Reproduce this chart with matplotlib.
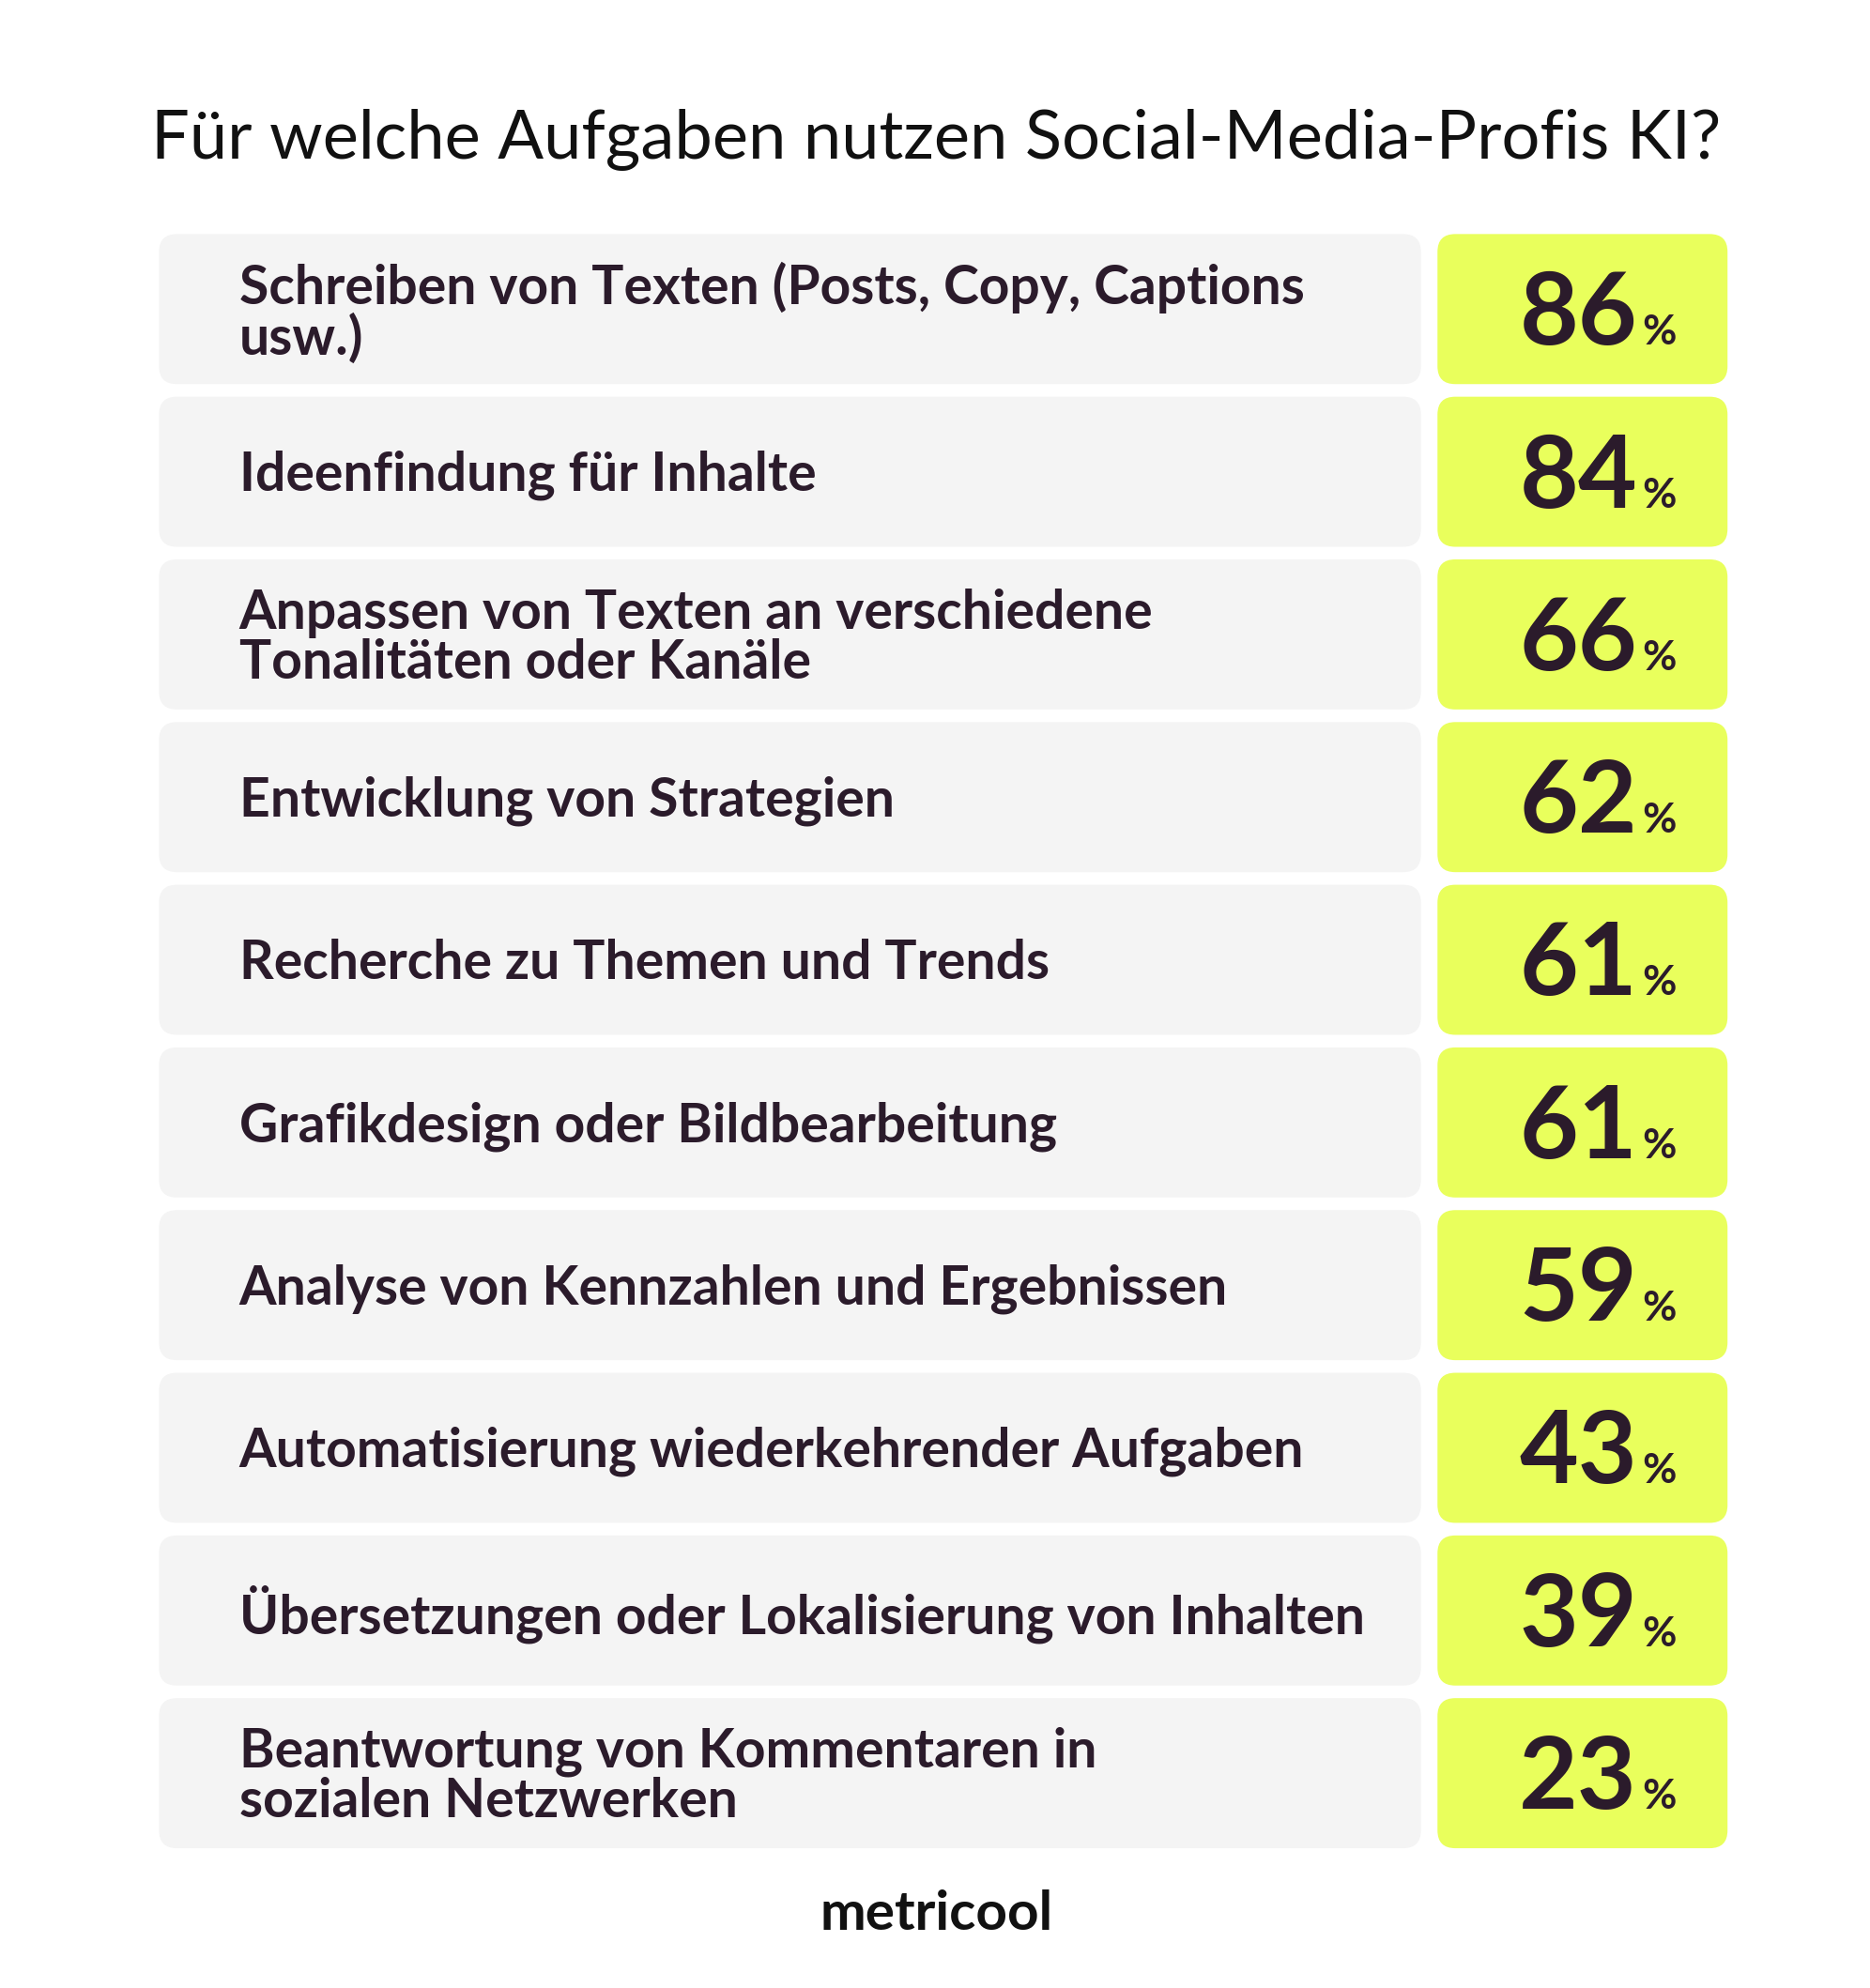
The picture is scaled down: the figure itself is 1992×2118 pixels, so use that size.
import matplotlib
matplotlib.use("Agg")
import matplotlib.pyplot as plt
from matplotlib.patches import FancyBboxPatch

# Daten
title = "Für welche Aufgaben nutzen Social-Media-Profis KI?"
tasks = [
    "Schreiben von Texten (Posts, Copy, Captions\nusw.)",
    "Ideenfindung für Inhalte",
    "Anpassen von Texten an verschiedene\nTonalitäten oder Kanäle",
    "Entwicklung von Strategien",
    "Recherche zu Themen und Trends",
    "Grafikdesign oder Bildbearbeitung",
    "Analyse von Kennzahlen und Ergebnissen",
    "Automatisierung wiederkehrender Aufgaben",
    "Übersetzungen oder Lokalisierung von Inhalten",
    "Beantwortung von Kommentaren in\nsozialen Netzwerken",
]
shares = [86, 84, 66, 62, 61, 61, 59, 43, 39, 23]

DARK = "#2b1b2b"
GRAY = "#f4f4f4"
GREEN = "#e9ff5c"
FONT = ["Lato", "DejaVu Sans"]

W, H = 1470, 1563
fig = plt.figure(figsize=(19.92, 21.18), dpi=100)
ax = fig.add_axes([0, 0, 1, 1])
ax.set_xlim(0, W)
ax.set_ylim(H, 0)
ax.axis("off")

ax.text(736, 110, title, ha="center", va="center", fontsize=52,
        color="#111111", family=FONT)

top0, pitch, h = 184, 127.9, 118
for i, (task, val) in enumerate(zip(tasks, shares)):
    y = top0 + i * pitch
    ax.add_patch(FancyBboxPatch((125, y), 992, h, boxstyle="round,pad=0,rounding_size=14",
                                fc=GRAY, ec="none"))
    ax.add_patch(FancyBboxPatch((1130, y), 228, h, boxstyle="round,pad=0,rounding_size=14",
                                fc=GREEN, ec="none"))
    ax.text(188, y + h / 2 + 3, task, ha="left", va="center", fontsize=41,
            fontweight="bold", color=DARK, family=FONT, linespacing=1.0)
    base = y + h / 2 + 28
    ax.text(1287, base, str(val), ha="right", va="baseline", fontsize=78,
            fontweight="bold", color=DARK, family=FONT)
    ax.text(1291, base, "%", ha="left", va="baseline", fontsize=32,
            fontweight="bold", color=DARK, family=FONT)

ax.text(736, 1505, "metricool", ha="center", va="center", fontsize=42,
        fontweight="bold", color="#111111", family=FONT)

fig.savefig("out.png", dpi=100, facecolor="white")
